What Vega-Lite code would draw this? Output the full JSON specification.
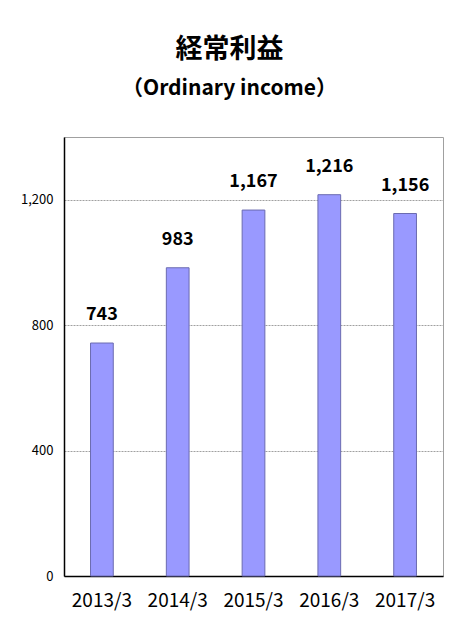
{
  "$schema": "https://vega.github.io/schema/vega-lite/v6.json",
  "autosize": {"type": "none"},
  "padding": {"left": 64, "top": 137, "right": 15, "bottom": 61},
  "width": 379,
  "height": 439,
  "background": "white",
  "title": {
    "text": "経常利益",
    "subtitle": "（Ordinary  income）",
    "anchor": "middle",
    "frame": "group",
    "dx": -24,
    "offset": 37,
    "font": "Noto Sans CJK JP",
    "fontSize": 27,
    "fontWeight": "bold",
    "color": "black",
    "subtitleFont": "Noto Sans CJK JP",
    "subtitleFontSize": 21,
    "subtitleFontWeight": "bold",
    "subtitleColor": "black",
    "subtitlePadding": 14
  },
  "data": {
    "values": [
      {"year": "2013/3", "value": 743},
      {"year": "2014/3", "value": 983},
      {"year": "2015/3", "value": 1167},
      {"year": "2016/3", "value": 1216},
      {"year": "2017/3", "value": 1156}
    ]
  },
  "encoding": {
    "x": {
      "field": "year",
      "type": "ordinal",
      "sort": null,
      "scale": {"paddingInner": 0.7, "paddingOuter": 0.35},
      "axis": {
        "title": null,
        "labelAngle": 0,
        "labelFont": "Noto Sans CJK JP",
        "labelFontSize": 19,
        "labelColor": "black",
        "labelPadding": 15,
        "ticks": false,
        "domainColor": "black",
        "domainWidth": 1.5
      }
    },
    "y": {
      "field": "value",
      "type": "quantitative",
      "scale": {"domain": [0, 1400], "nice": false},
      "axis": {
        "title": null,
        "values": [0, 400, 800, 1200],
        "format": ",d",
        "labelFont": "Noto Sans CJK JP",
        "labelFontSize": 13,
        "labelColor": "black",
        "labelPadding": 11,
        "ticks": false,
        "domainColor": "black",
        "domainWidth": 1.5,
        "grid": true,
        "gridColor": "#a0a0a0",
        "gridDash": [2, 1],
        "gridWidth": 1
      }
    }
  },
  "layer": [
    {
      "mark": {"type": "bar", "fill": "#9999ff", "stroke": "#6b6bb0", "strokeWidth": 1}
    },
    {
      "mark": {
        "type": "text",
        "baseline": "bottom",
        "dy": -19,
        "font": "Noto Sans CJK JP",
        "fontSize": 18,
        "fontWeight": "bold",
        "color": "black"
      },
      "encoding": {
        "text": {"field": "value", "type": "quantitative", "format": ",d"}
      }
    }
  ],
  "config": {
    "view": {"stroke": "#a0a0a0", "strokeWidth": 1}
  }
}
